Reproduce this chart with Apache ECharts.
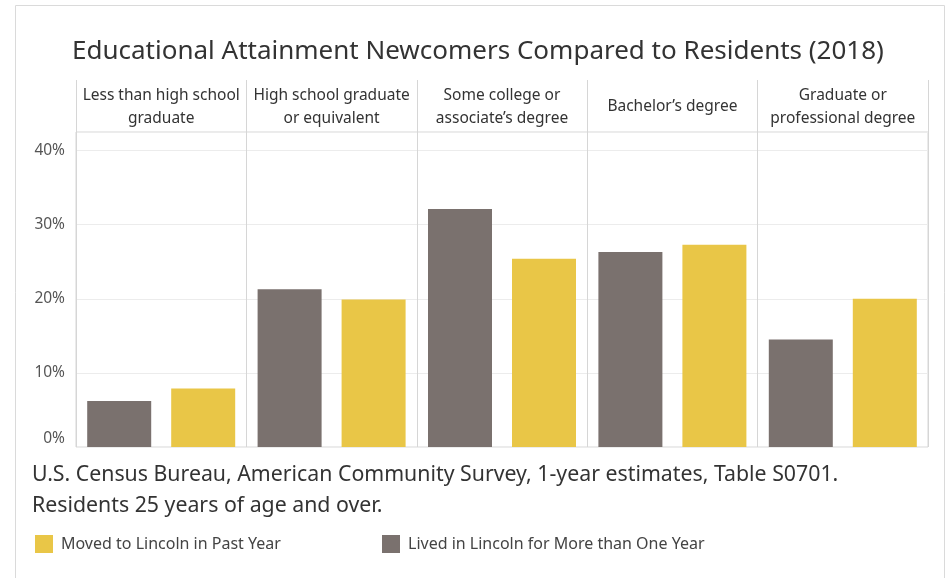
<!DOCTYPE html>
<html>
<head>
<meta charset="utf-8">
<script src="https://cdn.jsdelivr.net/npm/echarts@6/dist/echarts.min.js"></script>
<style>
html,body{margin:0;padding:0;background:#fff;}
#chart{width:948px;height:578px;}
</style>
</head>
<body>
<div id="chart"></div>
<script>
const categories = [
  'Less than high school\ngraduate',
  'High school graduate\nor equivalent',
  'Some college or\nassociate\u2019s degree',
  'Bachelor\u2019s degree',
  'Graduate or\nprofessional degree'
];
const livedMoreThanOneYear = [6.2, 21.3, 32.1, 26.3, 14.5];
const movedPastYear = [7.9, 19.9, 25.4, 27.3, 20.0];
const yTicks = [0, 10, 20, 30, 40];
const seriesNames = ['Lived in Lincoln for More than One Year', 'Moved to Lincoln in Past Year'];
const titleText = 'Educational Attainment Newcomers Compared to Residents (2018)';
const noteLines = ['U.S. Census Bureau, American Community Survey, 1-year estimates, Table S0701.', 'Residents 25 years of age and over.'];

const GRAY = '#7a716e';
const YELLOW = '#e9c647';
const LINE = '#d6d6d6';
const FONT = '"Noto Sans", "Open Sans", sans-serif';

const chart = echarts.init(document.getElementById('chart'), null, {renderer: 'canvas'});
const option = {
  animation: false,
  backgroundColor: '#ffffff',
  textStyle: {fontFamily: FONT},
  grid: [
    {left: 76, right: 20, top: 132, bottom: 131, show: true, borderColor: LINE, borderWidth: 1, containLabel: false},
    {left: 76, right: 20, top: 80, height: 52, show: false, containLabel: false}
  ],
  xAxis: [
    {type: 'category', gridIndex: 0, data: categories,
     axisLine: {show: false}, axisTick: {show: false}, axisLabel: {show: false},
     splitLine: {show: true, lineStyle: {color: LINE, width: 1}}},
    {type: 'category', gridIndex: 1, data: categories, position: 'top',
     axisLine: {show: false}, axisTick: {show: false},
     splitLine: {show: true, lineStyle: {color: LINE, width: 1}},
     axisLabel: {show: true, inside: true, margin: 27, verticalAlign: 'middle', align: 'center',
       color: '#333', fontSize: 15.5, lineHeight: 22.5, fontFamily: FONT, interval: 0}}
  ],
  yAxis: [
    {type: 'value', gridIndex: 0, min: 0, max: 42.5, interval: 10,
     axisLine: {show: false}, axisTick: {show: false},
     splitLine: {show: true, lineStyle: {color: '#ececec', width: 1}},
     axisLabel: {formatter: function(v){ return yTicks.indexOf(v) >= 0 ? v + '%' : ''; },
       color: '#555', fontSize: 15.5, margin: 11, fontFamily: FONT,
       showMaxLabel: false, verticalAlignMinLabel: 'bottom'}},
    {type: 'value', gridIndex: 1, show: false, min: 0, max: 1}
  ],
  legend: [
    {left: 35, top: 535, padding: 0, itemWidth: 18, itemHeight: 18, itemGap: 0, icon: 'rect',
     data: [seriesNames[1]], selectedMode: false,
     textStyle: {color: '#444', fontSize: 16, fontFamily: FONT, padding: [0, 0, 0, 3]}},
    {left: 382, top: 535, padding: 0, itemWidth: 18, itemHeight: 18, itemGap: 0, icon: 'rect',
     data: [seriesNames[0]], selectedMode: false,
     textStyle: {color: '#444', fontSize: 16, fontFamily: FONT, padding: [0, 0, 0, 3]}}
  ],
  graphic: [
    {type: 'rect', silent: true, shape: {x: 15.5, y: 5.5, width: 929, height: 600},
     style: {fill: 'none', stroke: '#dadada', lineWidth: 1}, z: -10},
    {type: 'text', left: 72, top: 39, silent: true,
     style: {text: titleText, fill: '#333', font: '26px ' + FONT}},
    {type: 'text', left: 32, top: 459, silent: true,
     style: {text: noteLines.join('\n'), fill: '#333', font: '21.3px ' + FONT, lineHeight: 31}}
  ],
  series: [
    {name: seriesNames[0], type: 'bar', xAxisIndex: 0, yAxisIndex: 0, data: livedMoreThanOneYear,
     barWidth: 64, barGap: '31.25%', itemStyle: {color: GRAY}},
    {name: seriesNames[1], type: 'bar', xAxisIndex: 0, yAxisIndex: 0, data: movedPastYear,
     barWidth: 64, barGap: '31.25%', itemStyle: {color: YELLOW}}
  ]
};
chart.setOption(option);
</script>
</body>
</html>
